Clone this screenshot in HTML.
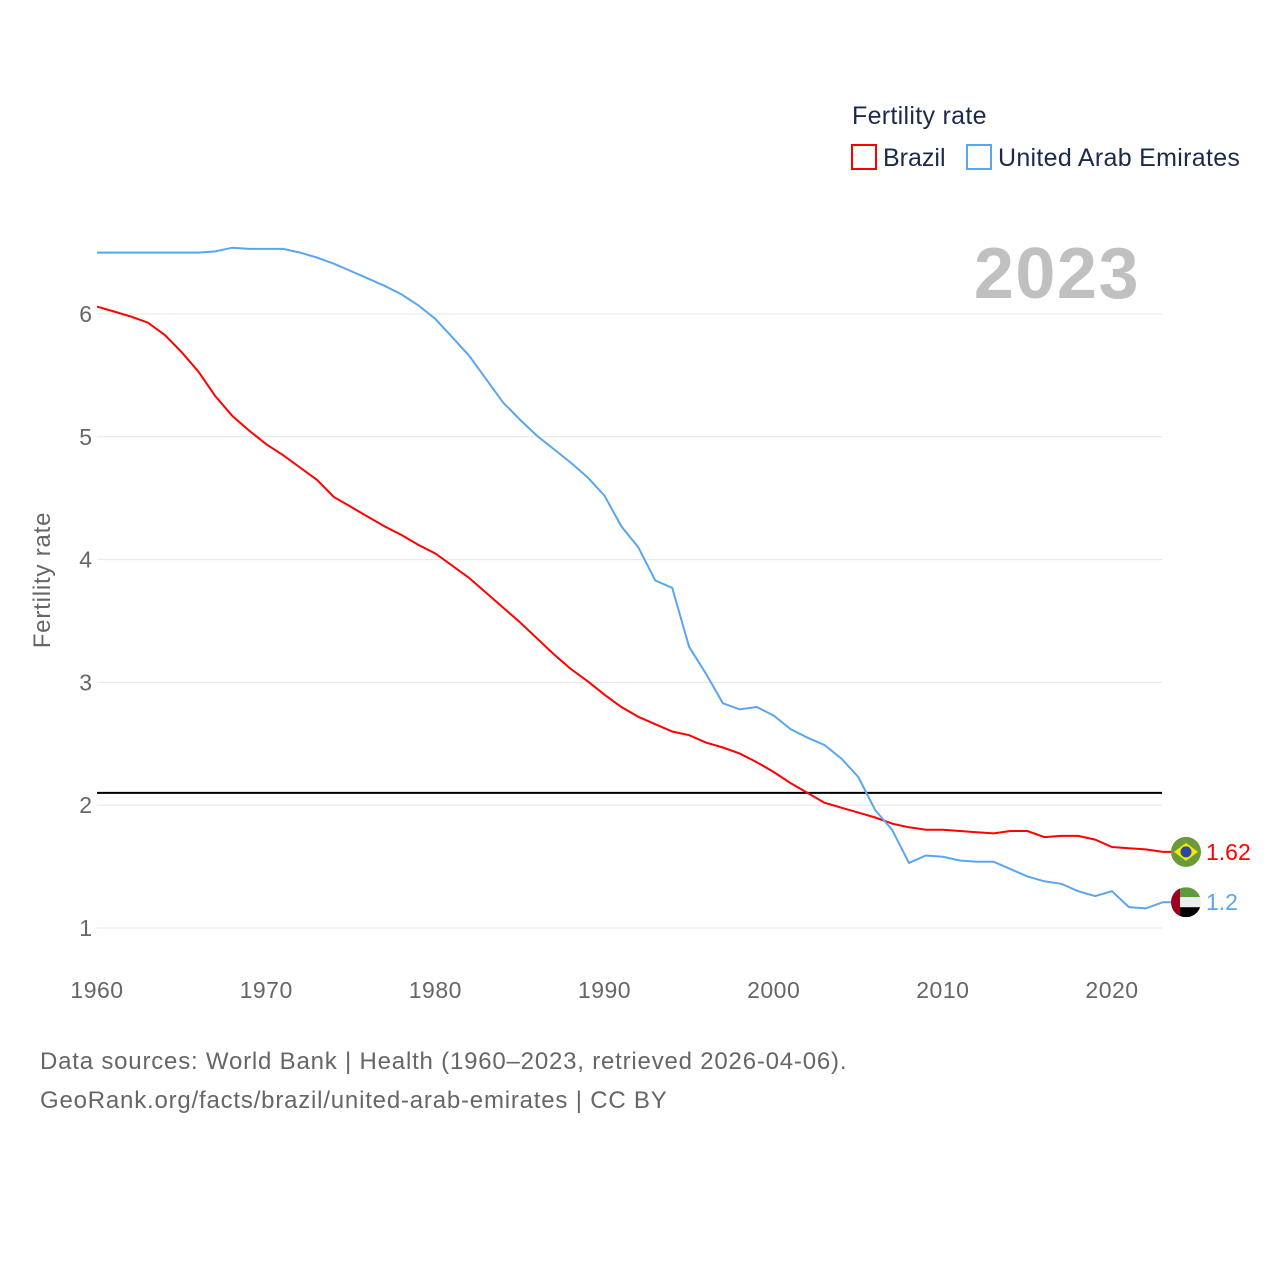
<!DOCTYPE html>
<html><head><meta charset="utf-8"><style>
body{margin:0;background:#fff;font-family:"Liberation Sans",sans-serif;}
svg text{font-family:"Liberation Sans",sans-serif;}
</style></head><body>
<svg id="chart" width="1280" height="1280" viewBox="0 0 1280 1280" xmlns="http://www.w3.org/2000/svg">
<rect width="1280" height="1280" fill="#fff"/>
<text x="852" y="124" font-size="25" fill="#1a2a4a" letter-spacing="0.3">Fertility rate</text>
<g><rect x="852" y="145" width="24" height="24" fill="none" stroke="#ff0000" stroke-width="2"/><text x="883" y="166" font-size="25" fill="#1a2a4a">Brazil</text></g>
<g><rect x="967" y="145" width="24" height="24" fill="none" stroke="#5aa6ee" stroke-width="2"/><text x="998" y="166" font-size="25" fill="#1a2a4a" letter-spacing="0.3">United Arab Emirates</text></g>
<text x="1140" y="298" font-size="72" font-weight="bold" fill="#c0c0c0" text-anchor="end" letter-spacing="1.5">2023</text>
<text transform="translate(50,580) rotate(-90)" font-size="24" fill="#666" text-anchor="middle" letter-spacing="0.8">Fertility rate</text>
<g id="grid"></g><g id="lines"></g><g id="ends"></g>
<text x="40" y="1069" font-size="24" fill="#666" letter-spacing="0.8">Data sources: World Bank | Health (1960–2023, retrieved 2026-04-06).</text>
<text x="40" y="1108" font-size="24" fill="#666" letter-spacing="0.8">GeoRank.org/facts/brazil/united-arab-emirates | CC BY</text>
</svg>
<script>
const years=[];for(let y=1960;y<=2023;y++)years.push(y);
const brazil=[6.06,6.02,5.98,5.93,5.83,5.69,5.53,5.33,5.17,5.05,4.94,4.85,4.75,4.65,4.51,4.43,4.35,4.27,4.20,4.12,4.05,3.95,3.85,3.73,3.61,3.49,3.36,3.23,3.11,3.01,2.90,2.80,2.72,2.66,2.60,2.57,2.51,2.47,2.42,2.35,2.27,2.18,2.10,2.02,1.98,1.94,1.90,1.85,1.82,1.80,1.80,1.79,1.78,1.77,1.79,1.79,1.74,1.75,1.75,1.72,1.66,1.65,1.64,1.62];
const uae=[6.50,6.50,6.50,6.50,6.50,6.50,6.50,6.51,6.54,6.53,6.53,6.53,6.50,6.46,6.41,6.35,6.29,6.23,6.16,6.07,5.96,5.81,5.66,5.47,5.28,5.14,5.01,4.90,4.79,4.67,4.52,4.27,4.10,3.83,3.77,3.29,3.07,2.83,2.78,2.80,2.73,2.62,2.55,2.49,2.38,2.23,1.96,1.80,1.53,1.59,1.58,1.55,1.54,1.54,1.48,1.42,1.38,1.36,1.30,1.26,1.30,1.17,1.16,1.21];
const yTicks=[1,2,3,4,5,6];
const xTicks=[1960,1970,1980,1990,2000,2010,2020];
const replacement=2.1;
const NS="http://www.w3.org/2000/svg";
const xS=y=>97+(y-1960)*(1015/60);
const yS=v=>928-(v-1)*122.8;
function mk(tag,attrs,parent,txt){const e=document.createElementNS(NS,tag);for(const k in attrs)e.setAttribute(k,attrs[k]);if(txt!==undefined)e.textContent=txt;parent.appendChild(e);return e;}
const grid=document.getElementById('grid'),lines=document.getElementById('lines'),ends=document.getElementById('ends');
yTicks.forEach(t=>{
 const l=mk('line',{x1:97,x2:1162,y1:yS(t),y2:yS(t),stroke:'#e6e6e6','stroke-width':1},grid);
 
 
 const tx=mk('text',{x:92,y:yS(t)+8,'font-size':23,fill:'#666','text-anchor':'end'},grid,String(t));
 
 
});
xTicks.forEach(t=>{
 const tx=mk('text',{x:xS(t),y:998,'font-size':23,fill:'#666','text-anchor':'middle','letter-spacing':0.5},grid,String(t));
 
 
});
const ref=mk('line',{x1:97,x2:1162,y1:yS(replacement),y2:yS(replacement),stroke:'#000','stroke-width':2},lines);


function series(vals,color,name){
 const d=vals.map((v,i)=>(i?'L':'M')+xS(years[i]).toFixed(1)+','+yS(v).toFixed(1)).join(' ');
 const p=mk('path',{d:d,fill:'none',stroke:color,'stroke-width':2},lines);
 
 
}
series(brazil,'#ff0000','brazil-line');
series(uae,'#5aa6ee','uae-line');
const bx=xS(2023),byv=yS(brazil[brazil.length-1]),uy=yS(uae[uae.length-1]);
mk('line',{x1:bx,x2:bx+12,y1:byv,y2:byv,stroke:'#ff0000','stroke-width':2},ends);
mk('line',{x1:bx,x2:bx+12,y1:uy,y2:uy,stroke:'#5aa6ee','stroke-width':2},ends);
const bf=mk('g',{},ends);


mk('circle',{cx:1186,cy:byv,r:15,fill:'#6a9a3a'},bf);
mk('polygon',{points:`1174,${byv} 1186,${byv-9} 1198,${byv} 1186,${byv+9}`,fill:'#f8e509'},bf);
mk('circle',{cx:1186,cy:byv,r:5.5,fill:'#2b49a3'},bf);
const uf=mk('g',{},ends);


const cp=mk('clipPath',{id:'uc'},uf);mk('circle',{cx:1186,cy:uy,r:15},cp);
const ug=mk('g',{'clip-path':'url(#uc)'},uf);
mk('rect',{x:1171,y:uy-15,width:30,height:10,fill:'#5f9a3c'},ug);
mk('rect',{x:1171,y:uy-5,width:30,height:10,fill:'#eee'},ug);
mk('rect',{x:1171,y:uy+5,width:30,height:10,fill:'#000'},ug);
mk('rect',{x:1171,y:uy-15,width:9,height:30,fill:'#a00020'},ug);
const bl=mk('text',{x:1206,y:byv+8,'font-size':23,fill:'#ff0000'},ends,String(brazil[brazil.length-1]));


const ul=mk('text',{x:1206,y:uy+8,'font-size':23,fill:'#5aa6ee'},ends,(Math.round(uae[uae.length-1]*10)/10).toString());


</script>
</body></html>
